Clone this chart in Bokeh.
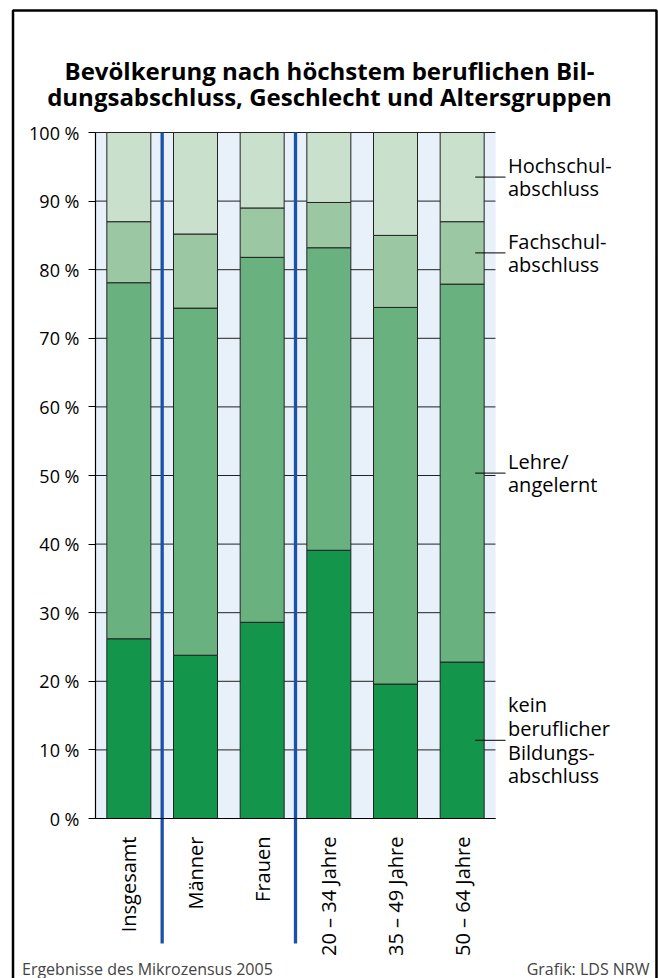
import numpy as np
from bokeh.plotting import figure
from bokeh.models import Range1d, FixedTicker, Label, ColumnDataSource
from bokeh.embed import file_html
from bokeh.resources import INLINE

# ---------------- data ----------------
categories = ["Insgesamt", "Männer", "Frauen", "20 – 34 Jahre", "35 – 49 Jahre", "50 – 64 Jahre"]
group_sizes = [1, 2, 3]  # Insgesamt | Geschlecht | Altersgruppen
kein = [26.2, 23.8, 28.6, 39.1, 19.6, 22.8]
lehre = [51.9, 50.6, 53.2, 44.1, 54.9, 55.1]
fach = [8.9, 10.8, 7.2, 6.6, 10.5, 9.1]
hoch = [13.0, 14.8, 11.0, 10.2, 15.0, 13.0]
series_keys = ["kein", "lehre", "fach", "hoch"]
series_labels = ["kein\nberuflicher\nBildungs-\nabschluss", "Lehre/\nangelernt",
                 "Fachschul-\nabschluss", "Hochschul-\nabschluss"]
y_ticks = list(range(0, 101, 10))
y_tick_labels = {t: f"{t} %" for t in y_ticks}
title_lines = ["Bevölkerung nach höchstem beruflichen Bil-",
               "dungsabschluss, Geschlecht und Altersgruppen"]
source_note = "Ergebnisse des Mikrozensus 2005"
credit_note = "Grafik: LDS NRW"

# ---------------- style / layout ----------------
colors = ["#13964b", "#6ab180", "#9bc8a2", "#c9e0cc"]
W, H = 658, 978
FL, FR, FT, FB = 95, 495, 132, 818   # plot-area edges in px
FONT = "Open Sans"
n = len(categories)
x0, x1 = -0.5, n - 0.5
y0, y1 = 0, 100
bar_w = 0.66

def px_x(px):
    return x0 + (px - FL) / (FR - FL) * (x1 - x0)

def px_y(py):
    return y0 + (FB - py) / (FB - FT) * (y1 - y0)

x = list(range(n))
source = ColumnDataSource(dict(x=x, kein=kein, lehre=lehre, fach=fach, hoch=hoch))

# frame covers the whole canvas; axes are pinned at the plot-area edges
p = figure(width=W, height=H,
           x_range=Range1d(px_x(0), px_x(W)), y_range=Range1d(px_y(H), px_y(0)),
           output_backend="svg", toolbar_location=None,
           min_border_left=0, min_border_right=0, min_border_top=0, min_border_bottom=0)
p.title.visible = False
p.background_fill_color = "white"
p.border_fill_color = "white"
p.outline_line_color = None
p.xgrid.visible = False
p.ygrid.visible = False

# plot-area background
p.quad(left=[x0], right=[x1], bottom=[y0], top=[y1], fill_color="#e8f0fa", line_color=None)
# horizontal grid lines at the y ticks
p.segment(x0=[x0] * len(y_ticks), x1=[x1] * len(y_ticks), y0=y_ticks, y1=y_ticks,
          line_color="#222222", line_width=1)

p.vbar_stack(series_keys, x="x", width=bar_w, color=colors, source=source,
             line_color="#222222", line_width=1)

# y axis
ya = p.yaxis[0]
ya.fixed_location = x0
ya.bounds = (y0, y1)
ya.ticker = FixedTicker(ticks=y_ticks)
ya.major_label_overrides = y_tick_labels
ya.major_label_text_font = FONT
ya.major_label_text_font_size = "18px"
ya.major_label_text_color = "black"
ya.axis_line_color = "black"
ya.axis_line_width = 1.2
ya.major_tick_line_color = "black"
ya.major_tick_out = 7
ya.major_tick_in = 0
ya.minor_tick_line_color = None
ya.major_label_standoff = 9

# x axis
xa = p.xaxis[0]
xa.fixed_location = y0
xa.bounds = (x0, x1)
xa.ticker = FixedTicker(ticks=x)
xa.major_label_overrides = {i: c for i, c in enumerate(categories)}
xa.major_label_orientation = np.pi / 2
xa.major_label_text_font = FONT
xa.major_label_text_font_size = "20px"
xa.major_label_text_color = "black"
xa.axis_line_color = "black"
xa.axis_line_width = 1.2
xa.major_tick_line_color = None
xa.minor_tick_line_color = None
xa.major_label_standoff = 12

# blue separators between groups
bounds = np.cumsum(group_sizes)[:-1] - 0.5
p.segment(x0=bounds, x1=bounds, y0=[y1] * len(bounds), y1=[px_y(943)] * len(bounds),
          line_color="#1a52a8", line_width=3.3)

# series labels with leader lines at segment midpoints of last bar
last = [kein[-1], lehre[-1], fach[-1], hoch[-1]]
cum = np.cumsum([0] + last)
mids = (cum[:-1] + cum[1:]) / 2
p.segment(x0=[n - 1 + bar_w / 2 - 0.135] * len(mids), x1=[px_x(505)] * len(mids),
          y0=mids, y1=mids, line_color="black", line_width=1)
for ym, lab in zip(mids, series_labels):
    p.add_layout(Label(x=px_x(507.5), y=ym, text=lab, text_font=FONT,
                       text_font_size="20px", text_align="left", text_baseline="middle",
                       text_line_height=0.88, text_color="black"))

# title
for j, t in enumerate(title_lines):
    p.add_layout(Label(x=px_x(W / 2), y=px_y(70 + 26 * j), text=t, text_font=FONT,
                       text_font_size="24px", text_font_style="bold",
                       text_align="center", text_baseline="alphabetic", text_color="black"))

# footer
p.add_layout(Label(x=px_x(21.5), y=px_y(968), text=source_note, text_font=FONT,
                   text_font_size="16px", text_align="left", text_baseline="alphabetic"))
p.add_layout(Label(x=px_x(649), y=px_y(968), text=credit_note, text_font=FONT,
                   text_font_size="16px", text_align="right", text_baseline="alphabetic"))

# outer frame (open at the bottom as in the original)
p.line(x=[px_x(12.5), px_x(12.5), px_x(656), px_x(656)],
       y=[px_y(990), px_y(10), px_y(10), px_y(990)], line_color="black", line_width=2.5)

open("out.html", "w").write(file_html(p, INLINE))
